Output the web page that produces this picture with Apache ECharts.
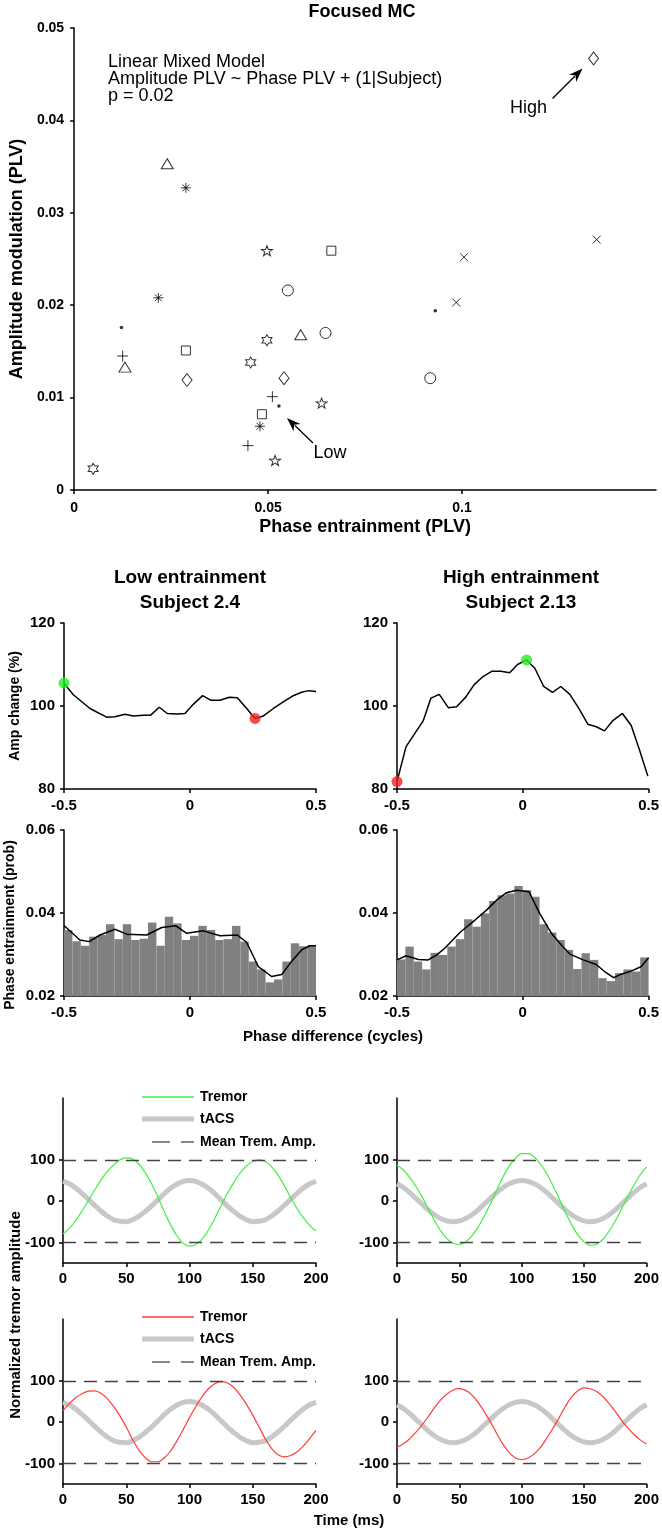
<!DOCTYPE html>
<html><head><meta charset="utf-8">
<script src="https://cdn.jsdelivr.net/npm/echarts@6/dist/echarts.min.js"></script>
<style>html,body{margin:0;padding:0;background:#fff}#c{width:662px;height:1532px}</style>
</head><body><div id="c"></div>
<script>
const FONT = 'Liberation Sans, Arial, sans-serif';

// ---------- Scatter (Focused MC): one list per subject marker ----------
const diamondPts  = [[0.1339,0.0467],[0.0291,0.0119],[0.0541,0.0121]];
const crossPts    = [[0.1347,0.0271],[0.1005,0.0252],[0.0985,0.0203]];
const dotPts      = [[0.0931,0.0194],[0.0122,0.0176],[0.0528,0.0091]];
const circlePts   = [[0.0918,0.0121],[0.0551,0.0216],[0.0648,0.0170]];
const star5Pts    = [[0.0497,0.0259],[0.0638,0.0094],[0.0518,0.0032]];
const squarePts   = [[0.0663,0.0259],[0.0288,0.0151],[0.0484,0.0082]];
const asteriskPts = [[0.0288,0.0327],[0.0217,0.0208],[0.0479,0.0069]];
const trianglePts = [[0.0240,0.0353],[0.0584,0.0168],[0.0131,0.0133]];
const hexPts      = [[0.0497,0.0162],[0.0455,0.0138],[0.0049,0.0023]];
const plusPts     = [[0.0125,0.0145],[0.0511,0.0101],[0.0448,0.0048]];
const scatterXTicks = [0, 0.05, 0.1];

// ---------- Amplitude change vs phase difference ----------
const lowAmpX = [-0.5,-0.463,-0.397,-0.331,-0.298,-0.258,-0.225,-0.185,-0.156,-0.122,-0.090,-0.053,-0.020,0.013,0.050,0.082,0.119,0.156,0.188,0.225,0.258,0.291,0.331,0.370,0.407,0.443,0.470,0.5];
const lowAmpY = [105.5,102.7,99.4,97.3,97.4,98.0,97.6,97.8,97.8,99.7,98.2,98.1,98.2,100.4,102.5,101.4,101.4,102.1,102.0,99.4,97.0,97.6,99.4,101.0,102.4,103.3,103.7,103.5];
const highAmpX = [-0.5,-0.464,-0.429,-0.396,-0.365,-0.332,-0.296,-0.263,-0.226,-0.194,-0.158,-0.122,-0.087,-0.052,-0.021,0.015,0.048,0.083,0.118,0.151,0.187,0.224,0.259,0.292,0.325,0.358,0.396,0.431,0.464,0.497];
const highAmpY = [81.8,90.2,93.4,96.4,101.9,102.8,99.6,99.8,102.2,105.1,107.1,108.4,108.4,108.0,110.0,111.1,109.1,104.7,103.3,104.7,102.8,99.3,95.6,95.0,94.0,96.5,98.2,95.3,89.4,83.1];
const lowBest  = [[-0.5,105.5]];
const lowWorst = [[0.258,97.0]];
const highBest = [[0.015,111.1]];
const highWorst= [[-0.5,81.8]];

// ---------- Phase entrainment histograms ----------
const phaseBinCenters = ['-0.483','-0.450','-0.417','-0.383','-0.350','-0.317','-0.283','-0.250','-0.217','-0.183','-0.150','-0.117','-0.083','-0.050','-0.017','0.017','0.050','0.083','0.117','0.150','0.183','0.217','0.250','0.283','0.317','0.350','0.383','0.417','0.450','0.483'];
const lowHist  = [0.0359,0.0332,0.0321,0.0343,0.0347,0.0373,0.0337,0.0373,0.0335,0.0338,0.0377,0.0321,0.0391,0.0375,0.0335,0.0345,0.0369,0.0359,0.0335,0.0337,0.0369,0.0331,0.0283,0.0264,0.0233,0.0240,0.0283,0.0327,0.0320,0.0323];
const highHist = [0.0288,0.0319,0.0283,0.0264,0.0304,0.0299,0.0319,0.0337,0.0385,0.0367,0.0399,0.0429,0.0443,0.0447,0.0465,0.0455,0.0439,0.0373,0.0353,0.0335,0.0311,0.0265,0.0303,0.0287,0.0243,0.0236,0.0255,0.0264,0.0259,0.0293];
const lowSmoothX = [-0.5,-0.437,-0.4,-0.357,-0.298,-0.251,-0.172,-0.112,-0.056,-0.013,0.053,0.119,0.188,0.225,0.271,0.324,0.364,0.408,0.443,0.476,0.5];
const lowSmoothY = [0.0370,0.0335,0.0331,0.0347,0.0361,0.0349,0.0347,0.0365,0.0369,0.0351,0.0357,0.0345,0.0347,0.0329,0.0271,0.0247,0.0252,0.0287,0.0311,0.0321,0.0321];
const highSmoothX = [-0.5,-0.464,-0.415,-0.376,-0.342,-0.310,-0.25,-0.190,-0.144,-0.104,-0.065,-0.025,0.025,0.067,0.114,0.153,0.187,0.240,0.292,0.325,0.361,0.385,0.431,0.471,0.5];
const highSmoothY = [0.0287,0.0297,0.0288,0.0287,0.0299,0.0315,0.0353,0.0383,0.0407,0.0431,0.0449,0.0455,0.0451,0.0399,0.0351,0.0323,0.0301,0.0287,0.0276,0.0259,0.0244,0.0251,0.0260,0.0271,0.0292];

// ---------- Simulated tremor vs tACS (time in ms, every 5 ms) ----------
const timeMs = [0,5,10,15,20,25,30,35,40,45,50,55,60,65,70,75,80,85,90,95,100,105,110,115,120,125,130,135,140,145,150,155,160,165,170,175,180,185,190,195,200];
const tacsLeft  = [48,42,32,19,5,-10,-24,-36,-45,-49,-50,-45,-37,-25,-12,3,18,31,41,48,50,48,41,31,18,3,-12,-25,-37,-45,-50,-49,-45,-36,-24,-10,5,19,32,42,48];
const tacsRight = [42,33,21,7,-7,-21,-33,-42,-48,-50,-48,-42,-33,-21,-7,7,21,33,42,48,50,48,42,33,21,7,-7,-21,-33,-42,-48,-50,-48,-42,-33,-21,-7,7,21,33,42];
const tremorHighLeft  = [-79,-66,-47,-24,1,27,51,72,88,100,105,102,90,69,42,10,-25,-57,-84,-102,-109,-105,-92,-70,-42,-11,19,45,68,85,96,100,96,83,63,37,8,-18,-40,-59,-72];
const tremorHighRight = [87,76,58,36,11,-18,-47,-72,-91,-102,-105,-99,-84,-63,-36,-6,27,59,85,104,115,115,107,90,67,38,6,-27,-57,-82,-99,-107,-104,-93,-73,-48,-19,11,39,64,83];
const tremorLowLeft   = [28,45,59,69,75,76,70,57,38,15,-12,-42,-68,-86,-96,-96,-87,-70,-46,-18,11,38,62,81,93,98,95,84,66,43,17,-12,-41,-64,-79,-84,-81,-72,-58,-40,-20];
const tremorLowRight  = [-61,-53,-41,-25,-7,13,35,54,68,78,81,77,66,48,25,0,-28,-54,-74,-87,-91,-87,-77,-61,-39,-15,11,38,61,76,83,81,74,62,45,26,4,-14,-30,-43,-53];
const meanLevels = [100, -100];

const zip = (xs, ys) => xs.map((x, i) => [x, ys[i]]);

const chart = echarts.init(document.getElementById('c'), null, {renderer: 'canvas'});

const axisLine = {show: true, onZero: false, lineStyle: {color: '#000', width: 1.5}};
const tick = {show: true, length: 4, inside: false, lineStyle: {color: '#000', width: 1.5}};
const lab = (size, margin, extra) => Object.assign({color: '#000', fontFamily: FONT, fontWeight: 'bold', fontSize: size, margin: margin}, extra || {});
const noSplit = {show: false};

function valAxis(grid, min, max, interval, labelSize, margin, extra) {
  return Object.assign({type: 'value', gridIndex: grid, min: min, max: max, interval: interval,
    axisLine: axisLine, axisTick: tick, splitLine: noSplit,
    axisLabel: lab(labelSize, margin)}, extra || {});
}

const grids = [
  {left: 68, top: 28, width: 588, height: 462},
  {left: 64, top: 623, width: 252, height: 166},
  {left: 397, top: 623, width: 252, height: 166},
  {left: 64, top: 830, width: 252, height: 166},
  {left: 397, top: 830, width: 252, height: 166},
  {left: 63, top: 1098, width: 253, height: 165},
  {left: 397, top: 1098, width: 252, height: 165},
  {left: 63, top: 1319, width: 253, height: 165},
  {left: 397, top: 1319, width: 252, height: 165}
];

const phaseFmt = v => (v === 0 ? '0' : String(v));
const xAxes = [
  valAxis(0, 0, 0.15, 0.05, 14, 11, {
    axisTick: Object.assign({}, tick, {customValues: scatterXTicks}),
    axisLabel: lab(14, 11, {customValues: scatterXTicks, formatter: v => String(v)}),
    name: 'Phase entrainment (PLV)', nameLocation: 'middle', nameGap: 28,
    nameTextStyle: {fontFamily: FONT, fontWeight: 'bold', fontSize: 18, color: '#000'}}),
  valAxis(1, -0.5, 0.5, 0.5, 15, 9, {axisLabel: lab(15, 9, {formatter: phaseFmt})}),
  valAxis(2, -0.5, 0.5, 0.5, 15, 9, {axisLabel: lab(15, 9, {formatter: phaseFmt})}),
  valAxis(3, -0.5, 0.5, 0.5, 15, 9, {axisLabel: lab(15, 9, {formatter: phaseFmt})}),
  valAxis(4, -0.5, 0.5, 0.5, 15, 9, {axisLabel: lab(15, 9, {formatter: phaseFmt})}),
  valAxis(5, 0, 200, 50, 15, 8),
  valAxis(6, 0, 200, 50, 15, 8),
  valAxis(7, 0, 200, 50, 15, 8),
  valAxis(8, 0, 200, 50, 15, 8),
  {type: 'category', gridIndex: 3, data: phaseBinCenters, show: false, boundaryGap: true},
  {type: 'category', gridIndex: 4, data: phaseBinCenters, show: false, boundaryGap: true}
];

const sineTicks = [-100, 0, 100];
const sineY = g => valAxis(g, -150, 250, 50, 15, 8, {
  axisTick: Object.assign({}, tick, {customValues: sineTicks}),
  axisLabel: lab(15, 8, {customValues: sineTicks})});

const yAxes = [
  valAxis(0, 0, 0.05, 0.01, 14, 10, {
    axisLabel: lab(14, 10, {formatter: v => (v === 0 ? '0' : v.toFixed(2))}),
    name: 'Amplitude modulation (PLV)', nameLocation: 'middle', nameGap: 47, nameRotate: 90,
    nameTextStyle: {fontFamily: FONT, fontWeight: 'bold', fontSize: 18, color: '#000'}}),
  valAxis(1, 80, 120, 20, 15, 9, {name: 'Amp change (%)', nameLocation: 'middle', nameGap: 42, nameRotate: 90,
    nameTextStyle: {fontFamily: FONT, fontWeight: 'bold', fontSize: 14, color: '#000'}}),
  valAxis(2, 80, 120, 20, 15, 9),
  valAxis(3, 0.02, 0.06, 0.02, 15, 9, {axisLabel: lab(15, 9, {formatter: v => v.toFixed(2)})}),
  valAxis(4, 0.02, 0.06, 0.02, 15, 9, {axisLabel: lab(15, 9, {formatter: v => v.toFixed(2)})}),
  sineY(5), sineY(6), sineY(7), sineY(8)
];

// scatter symbols
const SYM = {
  star5: 'path://M50,0L61.76,33.82L97.55,34.55L69.02,56.18L79.39,90.45L50,70L20.61,90.45L30.98,56.18L2.45,34.55L38.24,33.82Z',
  hex: 'path://M50,0L64.43,25L93.3,25L78.87,50L93.3,75L64.43,75L50,100L35.57,75L6.7,75L21.13,50L6.7,25L35.57,25Z',
  plus: 'path://M5,0L5,10M0,5L10,5',
  cross: 'path://M0,0L10,10M10,0L0,10',
  asterisk: 'path://M5,0L5,10M0,5L10,5M1.6,1.6L8.4,8.4M8.4,1.6L1.6,8.4'
};
function sc(name, data, symbol, size, filled) {
  return {type: 'scatter', name: name, xAxisIndex: 0, yAxisIndex: 0, data: data, symbol: symbol,
    symbolSize: size, silent: true, clip: false, z: 3,
    itemStyle: filled ? {color: '#000', borderWidth: 0}
                      : {color: 'rgba(255,255,255,0)', borderColor: '#000', borderWidth: 1}};
}

const series = [
  sc('S1', diamondPts, 'diamond', [10, 13]),
  sc('S2', crossPts, SYM.cross, 8),
  sc('S3', dotPts, 'circle', 3.5, true),
  sc('S4', circlePts, 'circle', 11),
  sc('S5', star5Pts, SYM.star5, [11, 10]),
  sc('S6', squarePts, 'rect', 9),
  sc('S7', asteriskPts, SYM.asterisk, 10),
  sc('S8', trianglePts, 'triangle', [12, 10]),
  sc('S9', hexPts, SYM.hex, [10, 11]),
  sc('S10', plusPts, SYM.plus, 11)
];

// amp panels
function ampLine(grid, data) {
  return {type: 'line', xAxisIndex: grid, yAxisIndex: grid, data: data, symbol: 'none', silent: true,
    lineStyle: {color: '#000', width: 1.5}, z: 2};
}
function dot(grid, data, color) {
  return {type: 'scatter', xAxisIndex: grid, yAxisIndex: grid, data: data, symbol: 'circle', symbolSize: 11,
    clip: false, silent: true, itemStyle: {color: color}, z: 4};
}
series.push(ampLine(1, zip(lowAmpX, lowAmpY)), dot(1, lowBest, '#22ee22'), dot(1, lowWorst, '#ee2222'));
series.push(ampLine(2, zip(highAmpX, highAmpY)), dot(2, highBest, '#22ee22'), dot(2, highWorst, '#ee2222'));

// phase histograms
function hist(catAxis, grid, data) {
  return {type: 'bar', xAxisIndex: catAxis, yAxisIndex: grid, data: data, barCategoryGap: '0%', barGap: '0%',
    clip: true, silent: true, itemStyle: {color: '#808080'}, z: 1};
}
series.push(hist(9, 3, lowHist), ampLine(3, zip(lowSmoothX, lowSmoothY)));
series.push(hist(10, 4, highHist), ampLine(4, zip(highSmoothX, highSmoothY)));

// sine panels
function tacs(grid, vals) {
  return {type: 'line', xAxisIndex: grid, yAxisIndex: grid, data: zip(timeMs, vals), symbol: 'none', smooth: 0.3,
    silent: true, lineStyle: {color: '#c8c8c8', width: 5}, z: 2,
    markLine: {silent: true, symbol: 'none', label: {show: false}, animation: false,
      lineStyle: {color: '#444', type: [13, 8], width: 1.3},
      data: meanLevels.map(v => ({yAxis: v}))}};
}
function tremor(grid, vals, color) {
  return {type: 'line', xAxisIndex: grid, yAxisIndex: grid, data: zip(timeMs, vals), symbol: 'none', smooth: 0.3,
    silent: true, lineStyle: {color: color, width: 1.2}, z: 3};
}
const GREEN = '#3ff03f', RED = '#ff3b3b';
series.push(tacs(5, tacsLeft), tremor(5, tremorHighLeft, GREEN));
series.push(tacs(6, tacsRight), tremor(6, tremorHighRight, GREEN));
series.push(tacs(7, tacsLeft), tremor(7, tremorLowLeft, RED));
series.push(tacs(8, tacsRight), tremor(8, tremorLowRight, RED));

const titleStyle = (size) => ({fontFamily: FONT, fontWeight: 'bold', fontSize: size, color: '#000', lineHeight: 25});
const option = {
  animation: false,
  backgroundColor: '#fff',
  title: [
    {text: 'Focused MC', left: 362, top: 3, textAlign: 'center', padding: 0,
      textStyle: {fontFamily: FONT, fontWeight: 'bold', fontSize: 18, color: '#000', lineHeight: 18}},
    {text: 'Low entrainment\nSubject 2.4', left: 190, top: 565, textAlign: 'center', padding: 0, textStyle: titleStyle(19)},
    {text: 'High entrainment\nSubject 2.13', left: 521, top: 565, textAlign: 'center', padding: 0, textStyle: titleStyle(19)}
  ],
  grid: grids,
  xAxis: xAxes,
  yAxis: yAxes,
  series: series
};
chart.setOption(option);

// ---------- annotations ----------
function arrow(tail, tip) {
  const dx = tip[0] - tail[0], dy = tip[1] - tail[1];
  const L = Math.hypot(dx, dy), ux = dx / L, uy = dy / L;
  const hl = 14, hw = 5;
  const bx = tip[0] - ux * hl, by = tip[1] - uy * hl;
  const nx = bx + ux * 4, ny = by + uy * 4;
  return [
    {type: 'line', silent: true, shape: {x1: tail[0], y1: tail[1], x2: bx + ux * 3, y2: by + uy * 3}, style: {stroke: '#000', lineWidth: 1.3}},
    {type: 'polygon', silent: true, shape: {points: [tip, [bx - uy * hw, by + ux * hw], [nx, ny], [bx + uy * hw, by - ux * hw]]}, style: {fill: '#000'}}
  ];
}
function label(x, y, text, size, weight, align, rot) {
  return {type: 'text', x: x, y: y, rotation: rot || 0, silent: true,
    style: {text: text, fontFamily: FONT, fontSize: size, fontWeight: weight, fill: '#000', align: align || 'center', verticalAlign: 'middle'}};
}
const pHigh = chart.convertToPixel({gridIndex: 0}, diamondPts[0]);
const pLow = chart.convertToPixel({gridIndex: 0}, dotPts[2]);

const g = [];
g.push({type: 'text', x: 108, y: 54, silent: true,
  style: {text: 'Linear Mixed Model\nAmplitude PLV ~ Phase PLV + (1|Subject)\np = 0.02', fontFamily: FONT, fontSize: 18,
    fill: '#000', lineHeight: 17, align: 'left', verticalAlign: 'top'}});
g.push(...arrow([pHigh[0] - 41, pHigh[1] + 40], [pHigh[0] - 11, pHigh[1] + 10]));
g.push(label(pHigh[0] - 65, pHigh[1] + 50, 'High', 18, 'normal'));
g.push(...arrow([pLow[0] + 34, pLow[1] + 37], [pLow[0] + 8, pLow[1] + 12]));
g.push(label(pLow[0] + 51, pLow[1] + 47, 'Low', 18, 'normal'));

// rotated / shared axis titles
g.push(label(10, 925, 'Phase entrainment (prob)', 14, 'bold', 'center', Math.PI / 2));
g.push(label(333, 1037, 'Phase difference (cycles)', 15, 'bold'));
g.push(label(16, 1315, 'Normalized tremor amplitude', 15, 'bold', 'center', Math.PI / 2));
g.push(label(349, 1521, 'Time (ms)', 15, 'bold'));

// legends for the sine panels
function legend(y0, color) {
  const out = [];
  out.push({type: 'line', silent: true, shape: {x1: 142, y1: y0, x2: 194, y2: y0}, style: {stroke: color, lineWidth: 1.3}});
  out.push({type: 'line', silent: true, shape: {x1: 142, y1: y0 + 22, x2: 194, y2: y0 + 22}, style: {stroke: '#c8c8c8', lineWidth: 5}});
  out.push({type: 'line', silent: true, shape: {x1: 152, y1: y0 + 45, x2: 170, y2: y0 + 45}, style: {stroke: '#444', lineWidth: 1.3}});
  out.push({type: 'line', silent: true, shape: {x1: 181, y1: y0 + 45, x2: 194, y2: y0 + 45}, style: {stroke: '#444', lineWidth: 1.3}});
  ['Tremor', 'tACS', 'Mean Trem. Amp.'].forEach((t, i) => {
    out.push(label(200, y0 + [0, 22, 45][i], t, 14, 'bold', 'left'));
  });
  return out;
}
g.push(...legend(1097, GREEN));
g.push(...legend(1317, RED));

chart.setOption({graphic: g});
</script>
</body></html>
